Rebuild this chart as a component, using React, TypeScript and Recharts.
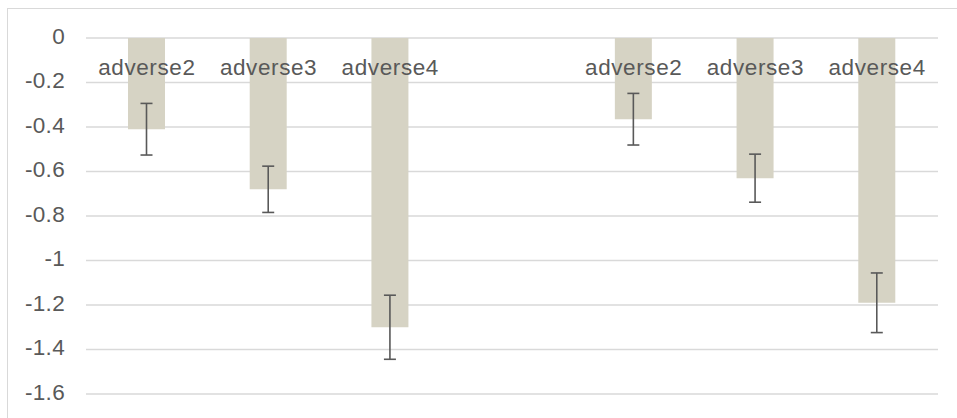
import React from 'react';
import { BarChart, Bar, XAxis, YAxis, CartesianGrid, ErrorBar } from 'recharts';

const categories = ['adverse2', 'adverse3', 'adverse4', '', 'adverse2', 'adverse3', 'adverse4'];
const values = [-0.41, -0.68, -1.3, null, -0.365, -0.63, -1.19];
const errors = [0.116, 0.104, 0.144, null, 0.116, 0.108, 0.134];
const yTicks = [0, -0.2, -0.4, -0.6, -0.8, -1, -1.2, -1.4, -1.6];

const data = categories.map((name, i) => ({
  idx: i,
  name,
  value: values[i],
  err: errors[i],
}));

const textColor = '#595959';
const font = '"Liberation Sans", Arial, sans-serif';

const renderCategoryTick = (props: any) => {
  const { x, y, payload, index } = props;
  const label = categories[Number(payload?.value ?? index)];
  return (
    <text
      key={`cat-${index}`}
      x={x}
      y={y + 31}
      textAnchor="middle"
      dominantBaseline="middle"
      fill={textColor}
      fontSize={22.5}
      fontFamily={font}
      letterSpacing={0.6}
    >
      {label || ''}
    </text>
  );
};

const renderValueTick = (props: any) => {
  const { x, y, payload, index } = props;
  return (
    <text
      key={`val-${index}`}
      x={x}
      y={y}
      textAnchor="end"
      dominantBaseline="middle"
      fill={textColor}
      fontSize={22.5}
      fontFamily={font}
      letterSpacing={0.3}
    >
      {String(payload.value)}
    </text>
  );
};

export default function App() {
  return (
    <div style={{ position: 'absolute', left: 0, top: 0, width: 957, height: 418, overflow: 'hidden', background: '#fff' }}>
      <div
        style={{
          position: 'absolute',
          left: 7,
          top: 8,
          width: 980,
          height: 440,
          border: '1px solid #d9d9d9',
          boxSizing: 'border-box',
        }}
      />
      <div style={{ position: 'absolute', left: 0, top: 0 }}>
        <BarChart
          width={957}
          height={418}
          data={data}
          margin={{ top: 37, right: 19, bottom: 24, left: 26 }}
          barSize={37}
        >
          <CartesianGrid vertical={false} stroke="#d9d9d9" strokeWidth={1.3} />
          <XAxis
            dataKey="idx"
            xAxisId={0}
            orientation="top"
            height={1}
            axisLine={false}
            tickLine={false}
            tickSize={0}
            tickMargin={0}
            interval={0}
            tick={renderCategoryTick}
          />
          <YAxis
            type="number"
            domain={[-1.6, 0]}
            ticks={yTicks}
            width={60}
            axisLine={false}
            tickLine={false}
            tickSize={0}
            tickMargin={21}
            interval={0}
            tick={renderValueTick}
          />
          <Bar dataKey="value" fill="#d6d3c4" isAnimationActive={false}>
            <ErrorBar dataKey="err" width={6} strokeWidth={1.6} stroke={textColor} />
          </Bar>
        </BarChart>
      </div>
    </div>
  );
}
